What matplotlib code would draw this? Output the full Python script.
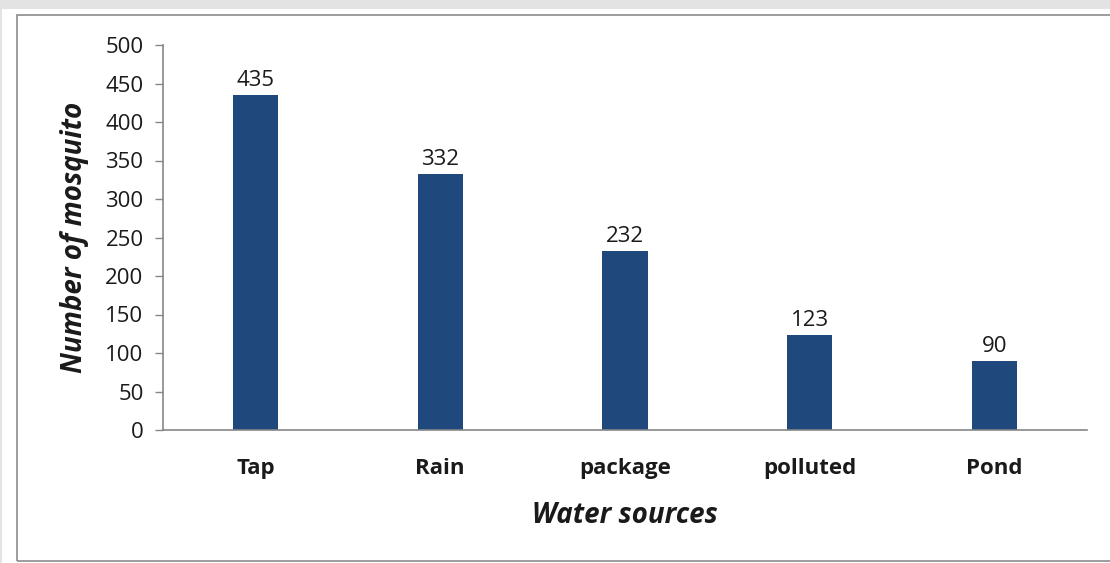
import matplotlib.pyplot as plt
from matplotlib.patches import Rectangle

# data
sources = ['Tap', 'Rain', 'package', 'polluted', 'Pond']
counts = [435, 332, 232, 123, 90]

bar_col = '#1F497D'
axis_col = '#868686'
txt_col = '#1a1a1a'
plt.rcParams['font.family'] = ['Open Sans', 'DejaVu Sans']

fig = plt.figure(figsize=(11.1, 5.63), dpi=100)
fig.patch.set_facecolor('white')

# gray page band + chart frame
fig.patches.append(Rectangle((0, 1 - 9 / 563), 1, 9 / 563, transform=fig.transFigure,
                             facecolor='#e3e3e3', edgecolor='none', zorder=0))
fig.patches.append(Rectangle((0, 0), 2 / 1110, 1, transform=fig.transFigure,
                             facecolor='#e3e3e3', edgecolor='none', zorder=0))
fig.patches.append(Rectangle((17 / 1110, 2 / 563), 1.2, (563 - 17) / 563, transform=fig.transFigure,
                             facecolor='none', edgecolor='#8c8c8c', lw=1.2, zorder=0))

ax = fig.add_axes([163 / 1110, 1 - 430 / 563, 924 / 1110, 385 / 563])
x = range(len(sources))
bars = ax.bar(x, counts, width=0.245, color=bar_col, zorder=2)
for xi, v in zip(x, counts):
    ax.annotate(str(v), (xi, v), xytext=(0, 3), textcoords='offset points',
                ha='center', va='bottom', fontsize=16, color=txt_col)

ax.set_xlim(-0.5, len(sources) - 0.5)
ax.set_ylim(0, 500)
ax.set_yticks(range(0, 501, 50))
ax.set_xticks(list(x))
ax.set_xticklabels(sources, fontweight='bold', fontsize=16, color=txt_col)
ax.tick_params(axis='x', length=0, pad=20)
ax.tick_params(axis='y', length=6, width=1, color=axis_col, labelsize=16,
               labelcolor=txt_col, pad=8)

for s in ['top', 'right']:
    ax.spines[s].set_visible(False)
for s in ['left', 'bottom']:
    ax.spines[s].set_color(axis_col)
    ax.spines[s].set_linewidth(1.2)

ax.set_xlabel('Water sources', fontsize=20, fontweight='bold', style='italic',
              color=txt_col, labelpad=16)
ax.set_ylabel('Number of mosquito', fontsize=20, fontweight='bold', style='italic',
              color=txt_col, labelpad=12)

fig.savefig('out.png', dpi=100)
